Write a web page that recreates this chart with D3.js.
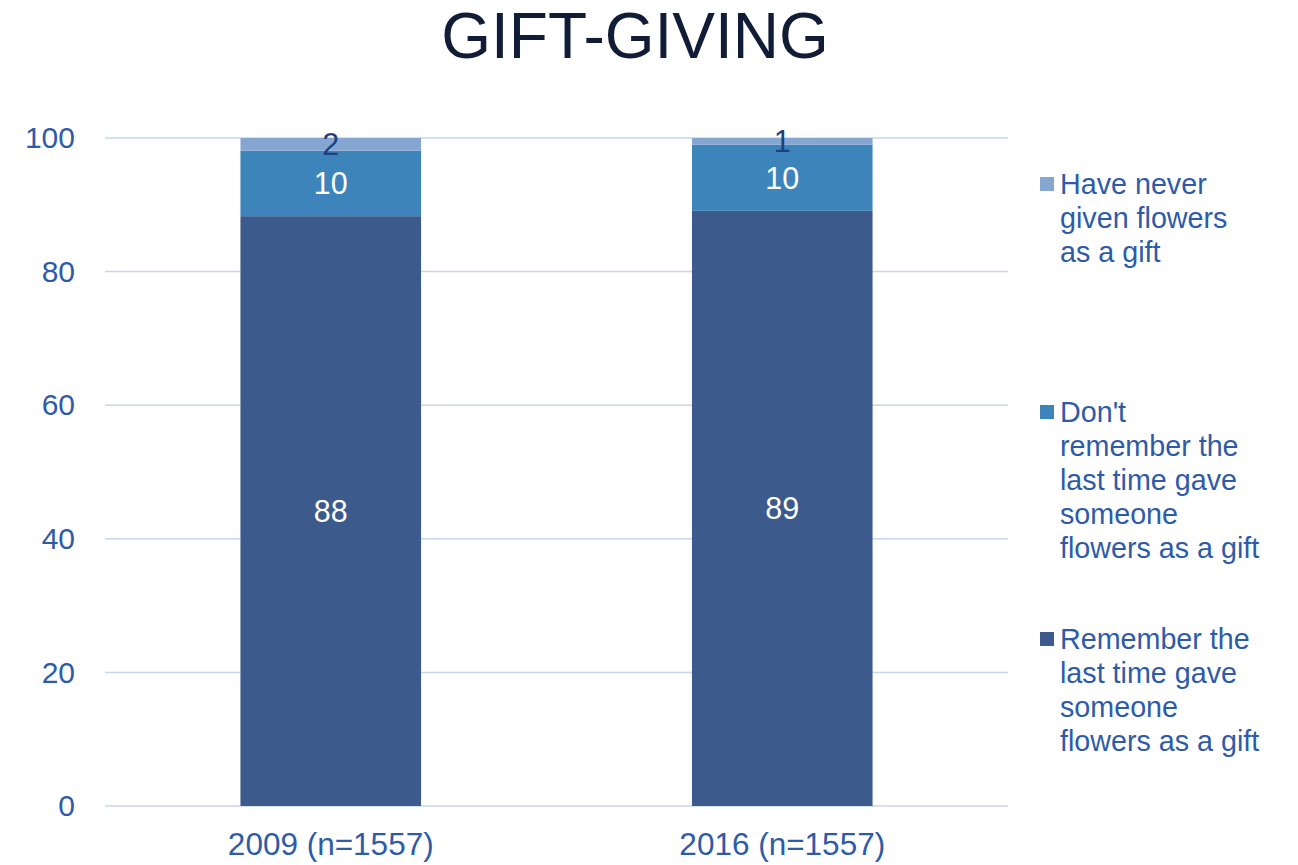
<!DOCTYPE html>
<html>
<head>
<meta charset="utf-8">
<script src="https://cdn.jsdelivr.net/npm/d3@7"></script>
<style>
  body { margin: 0; background: #fff; }
  svg { display: block; font-family: "Liberation Sans", Arial, sans-serif; }
</style>
</head>
<body>
<svg width="1298" height="865"></svg>
<script>
// chart data
const categories = ["2009 (n=1557)", "2016 (n=1557)"];
const seriesNames = ["remember", "dontRemember", "never"];
const remember = [88.3, 89.1];
const dontRemember = [9.8, 9.9];
const never = [1.9, 1.0];
const labelRemember = ["88", "89"];
const labelDontRemember = ["10", "10"];
const labelNever = ["2", "1"];
const yTicks = [0, 20, 40, 60, 80, 100];
const legendItems = [
  { key: "never", lines: ["Have never", "given flowers", "as a gift"] },
  { key: "dontRemember", lines: ["Don't", "remember the", "last time gave", "someone", "flowers as a gift"] },
  { key: "remember", lines: ["Remember the", "last time gave", "someone", "flowers as a gift"] }
];

const color = d3.scaleOrdinal(seriesNames, ["#3c5a8c", "#3d84bb", "#84a6d1"]);
const textBlue = "#2e5ba8";

const svg = d3.select("svg");

const x = d3.scaleBand(categories, [105, 1008]).paddingInner(0.6).paddingOuter(0.3);
const y = d3.scaleLinear([0, 100], [806, 138]);

// title
svg.append("text")
  .attr("x", 635).attr("y", 58)
  .attr("text-anchor", "middle")
  .attr("font-size", 64)
  .attr("fill", "#111c36")
  .text("GIFT-GIVING");

// gridlines
svg.append("g")
  .selectAll("line")
  .data(yTicks)
  .join("line")
    .attr("x1", 105).attr("x2", 1008)
    .attr("y1", d => y(d)).attr("y2", d => y(d))
    .attr("stroke", "#c7d6ee")
    .attr("stroke-width", 1.5);

// y axis labels
const yAxis = svg.append("g")
  .attr("transform", "translate(105,0)")
  .call(d3.axisLeft(y).tickValues(yTicks).tickSize(0).tickPadding(30));
yAxis.select(".domain").remove();
yAxis.selectAll("text")
  .attr("font-size", 30)
  .attr("font-family", "Liberation Sans, Arial, sans-serif")
  .attr("fill", textBlue);

// x axis labels
const xAxis = svg.append("g")
  .attr("transform", "translate(0,806)")
  .call(d3.axisBottom(x).tickSize(0).tickPadding(27));
xAxis.select(".domain").remove();
xAxis.selectAll("text")
  .attr("font-size", 31.5)
  .attr("font-family", "Liberation Sans, Arial, sans-serif")
  .attr("fill", textBlue);

// stacked bars
const table = categories.map((c, i) => ({
  cat: c, remember: remember[i], dontRemember: dontRemember[i], never: never[i]
}));
const labels = { remember: labelRemember, dontRemember: labelDontRemember, never: labelNever };
const stacked = d3.stack().keys(seriesNames)(table);

const layer = svg.append("g")
  .selectAll("g")
  .data(stacked)
  .join("g")
    .attr("fill", d => color(d.key));

layer.selectAll("rect")
  .data(d => d)
  .join("rect")
    .attr("x", d => x(d.data.cat))
    .attr("width", x.bandwidth())
    .attr("y", d => y(d[1]))
    .attr("height", d => y(d[0]) - y(d[1]));

// value labels
svg.append("g")
  .selectAll("g")
  .data(stacked)
  .join("g")
  .selectAll("text")
  .data(s => s.map((d, i) => ({ key: s.key, d, i })))
  .join("text")
    .attr("x", o => x(o.d.data.cat) + x.bandwidth() / 2)
    .attr("y", o => y((o.d[0] + o.d[1]) / 2))
    .attr("dy", "0.36em")
    .attr("text-anchor", "middle")
    .attr("font-size", 30.5)
    .attr("fill", o => o.key === "never" ? "#1f3f7f" : "#ffffff")
    .text(o => labels[o.key][o.i]);

// legend
const legendTop = [184, 412, 639];
const lineH = 34;
const legend = svg.append("g")
  .selectAll("g")
  .data(legendItems)
  .join("g")
    .attr("transform", (d, i) => `translate(1040,${legendTop[i]})`);

legend.append("rect")
  .attr("x", 0).attr("y", -7)
  .attr("width", 14).attr("height", 14)
  .attr("fill", d => color(d.key));

legend.append("text")
  .attr("font-size", 28.7)
  .attr("fill", textBlue)
  .selectAll("tspan")
  .data(d => d.lines)
  .join("tspan")
    .attr("x", 20)
    .attr("y", (d, i) => i * lineH)
    .attr("dy", "0.36em")
    .text(d => d);
</script>
</body>
</html>
